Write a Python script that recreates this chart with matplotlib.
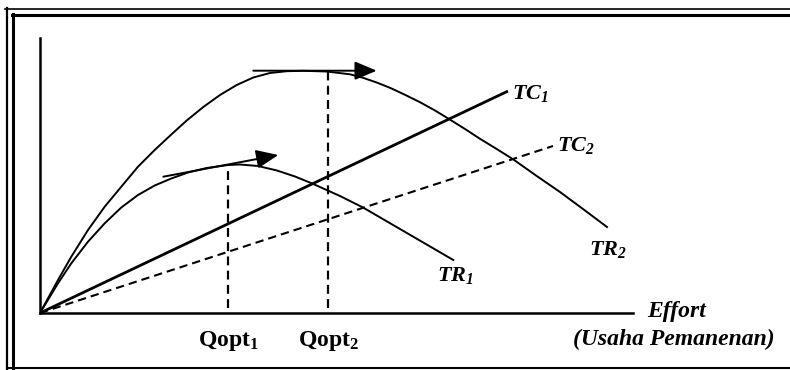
import matplotlib
matplotlib.use('Agg')
import matplotlib.pyplot as plt
from matplotlib.lines import Line2D

# Times-like serif, bold italic for the curve labels (digits too), bold upright for Qopt
plt.rcParams['font.family'] = 'Liberation Serif'
plt.rcParams['mathtext.fontset'] = 'custom'
plt.rcParams['mathtext.rm'] = 'Liberation Serif:italic:bold'
plt.rcParams['mathtext.it'] = 'Liberation Serif:italic:bold'
plt.rcParams['mathtext.bf'] = 'Liberation Serif:bold'

# Values (effort on x, revenue / cost on y, arbitrary units)
tr2_x = [0, 18, 31.3, 48, 64.7, 81.3, 98, 114.7, 131.3, 146.7, 163.3, 180, 196.7, 213.3,
         230, 246.7, 263.3, 286.7, 310, 323.3, 336.7, 350, 365, 380, 395, 409, 425, 440,
         457, 473, 496, 520, 543, 567]
tr2_y = [0, 33, 56.3, 83, 106.3, 126.3, 146.3, 163, 178.5, 192.5, 206, 218, 228, 235.5,
         240, 241.8, 242.2, 241.5, 238.7, 235.1, 230.5, 225.2, 218.2, 210.8, 202.5, 194, 184, 174.2,
         163.8, 153.8, 137.5, 121, 104, 86]

tr1_x = [0, 18, 31.3, 48, 64.7, 81.3, 98, 114.7, 131.3, 148, 166.7, 188, 200, 218, 237,
         255, 271.7, 300, 323, 360, 413.3]
tr1_y = [0, 29.7, 49.7, 71.3, 89.7, 105.5, 118, 127.5, 134.5, 140.5, 145, 148, 148.5, 147, 142.5,
         136.5, 129.7, 117, 105.5, 84, 53]

tc1_x = [0, 466.7]
tc1_y = [0, 221.3]
tc2_x = [0, 513]
tc2_y = [0, 167]

qopt_x = [188.3, 288.3]
qopt_top = [148, 241.5]
qopt_labels = [r'$\mathbf{Qopt}_\mathbf{1}$', r'$\mathbf{Qopt}_\mathbf{2}$']

# tangent arrows at the top of each TR curve: (start, tip)
arrows = [((123.3, 136.3), (238.3, 158)), ((213.3, 242.3), (336.7, 242.3))]

fig = plt.figure(figsize=(7.9, 3.7), dpi=100)
ax = fig.add_axes([40 / 790, 1 - 313 / 370, 593 / 790, 275 / 370])
ax.set_xlim(0, 593)
ax.set_ylim(0, 275)

ax.plot(tr2_x, tr2_y, color='black', lw=1.4, solid_joinstyle='round')
ax.plot(tr1_x, tr1_y, color='black', lw=1.4, solid_joinstyle='round')
ax.plot(tc1_x, tc1_y, color='black', lw=2.0)
ax.plot(tc2_x, tc2_y, color='black', lw=1.5, dashes=(4, 2.4))

for qx, qt in zip(qopt_x, qopt_top):
    ax.plot([qx, qx], [5, qt], color='black', lw=1.6, dashes=(4, 2.4))

for start, tip in arrows:
    ax.annotate('', xy=tip, xytext=start,
                arrowprops=dict(arrowstyle='-|>,head_length=0.9,head_width=0.38',
                                mutation_scale=15, lw=1.4, color='black',
                                shrinkA=0, shrinkB=0))

# labels
ax.text(472, 220, r'$TC_1$', fontsize=16, ha='left', va='center')
ax.text(517, 168, r'$TC_2$', fontsize=16, ha='left', va='center')
ax.text(568, 64, r'$TR_2$', fontsize=16, ha='center', va='center')
ax.text(415, 37, r'$TR_1$', fontsize=16, ha='center', va='center')
ax.text(607, 2, 'Effort', fontsize=17, fontstyle='italic', fontweight='bold',
        ha='left', va='center')
ax.text(533, -26, '(Usaha Pemanenan)', fontsize=17, fontstyle='italic',
        fontweight='bold', ha='left', va='center')
for qx, lab in zip(qopt_x, qopt_labels):
    ax.text(qx, -28, lab, fontsize=17, ha='center', va='center')

for side in ['top', 'right']:
    ax.spines[side].set_visible(False)
for side in ['left', 'bottom']:
    ax.spines[side].set_linewidth(1.8)
ax.set_xticks([])
ax.set_yticks([])

# scanned double frame round the figure
W, H = 790, 370
def frame(x0, y0, x1, y1, lw):
    fig.add_artist(Line2D([x0 / W, x1 / W], [1 - y0 / H, 1 - y1 / H],
                          transform=fig.transFigure, color='black', lw=lw))

frame(7, 8, 7, 369, 1.6)
frame(13.3, 14, 13.3, 369, 2.2)
frame(5, 9, 790, 9, 1.2)
frame(12, 15, 790, 15, 2.2)
frame(7, 368, 790, 368, 1.5)

fig.savefig('out.png', dpi=100)
plt.close(fig)
